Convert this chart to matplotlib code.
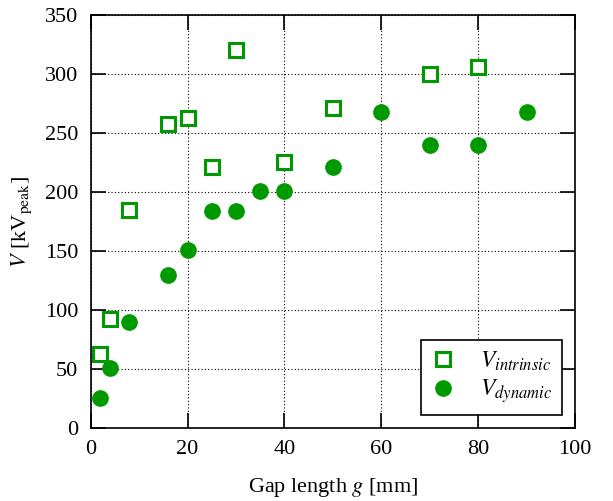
import matplotlib
matplotlib.use("Agg")
import matplotlib.pyplot as plt

plt.rcParams["font.family"] = ["Liberation Serif", "DejaVu Serif"]
plt.rcParams["mathtext.fontset"] = "stix"

# gap length [mm] and breakdown voltages [kV_peak]
g_intrinsic = [2, 4, 8, 16, 20, 25, 30, 40, 50, 70, 80]
v_intrinsic = [63, 92, 185, 258, 263, 221, 320, 225, 271, 300, 306]

g_dynamic = [2, 4, 8, 16, 20, 25, 30, 35, 40, 50, 60, 70, 80, 90]
v_dynamic = [25, 51, 90, 130, 151, 184, 184, 201, 201, 221, 268, 240, 240, 268]

green = "#009900"

fig = plt.figure(figsize=(6.13, 5.01), dpi=100)
ax = fig.add_axes([0.148, 0.146, 0.79, 0.824])

ax.plot(g_intrinsic, v_intrinsic, "s", ms=10.5, mfc="white", mec=green, mew=2.2,
        ls="none", label="$V_{intrinsic}$")
ax.plot(g_dynamic, v_dynamic, "o", ms=11, color=green, ls="none",
        label="$V_{dynamic}$")

ax.set_xlim(0, 100)
ax.set_ylim(0, 350)
ax.set_xticks(range(0, 101, 20))
ax.set_yticks(range(0, 351, 50))
ax.grid(True, ls=(0, (1, 2)), color="black", lw=0.8)
ax.tick_params(direction="in", length=11, width=1.2, top=True, right=True,
               labelsize=16, pad=9)
for s in ax.spines.values():
    s.set_linewidth(1.2)

ax.set_xlabel("Gap length $g$ [mm]", fontsize=16, labelpad=12)
ax.set_ylabel("$V$ [kV$_{\\mathrm{peak}}$]", fontsize=16, labelpad=8)

leg = ax.legend(loc="lower right", fontsize=17, frameon=True, fancybox=False,
                edgecolor="black", framealpha=1, borderaxespad=0.55,
                handlelength=1.0, handletextpad=1.1, labelspacing=0.2,
                borderpad=0.4)
leg.get_frame().set_linewidth(1.2)

fig.savefig("out.png", dpi=100)
